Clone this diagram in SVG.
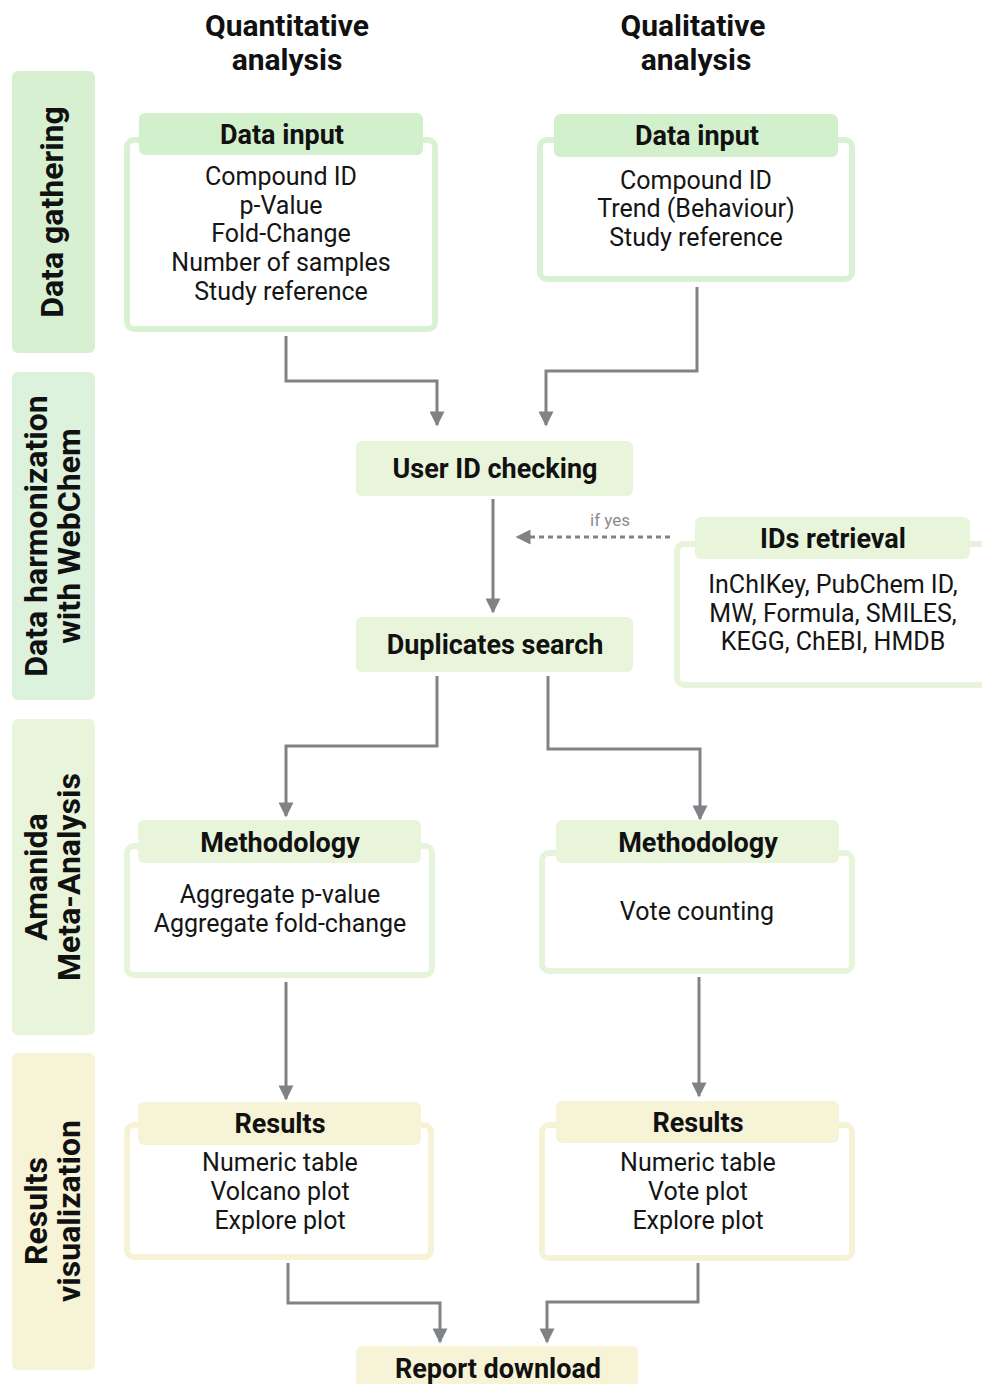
<svg xmlns="http://www.w3.org/2000/svg" width="982" height="1384" viewBox="0 0 982 1384">
<defs>
<style>
.hd{font-family:Roboto,"Liberation Sans",sans-serif;font-weight:bold;font-size:30px;fill:#111;text-anchor:middle}
.side{font-family:Roboto,"Liberation Sans",sans-serif;font-weight:bold;font-size:32px;fill:#111;text-anchor:middle}
.tt{font-family:Roboto,"Liberation Sans",sans-serif;font-weight:bold;font-size:27px;fill:#111;text-anchor:middle}
.bd{font-family:Roboto,"Liberation Sans",sans-serif;font-size:25px;fill:#151515;text-anchor:middle}
.lbl{font-family:Roboto,"Liberation Sans",sans-serif;font-size:17px;fill:#8a8d90;text-anchor:middle}
.c{fill:none;stroke:#808386;stroke-width:3}
.og{fill:#fff;stroke:#d8f1d3;stroke-width:6}
.om{fill:#fff;stroke:#e6f4dc;stroke-width:6}
.or{fill:#fff;stroke:#f5f2d6;stroke-width:6}
</style>
<marker id="ah" viewBox="0 0 10 10" refX="9" refY="5" markerWidth="5.5" markerHeight="5" orient="auto" markerUnits="strokeWidth">
<path d="M0,0 L10,5 L0,10 z" fill="#808386"/>
</marker>
</defs>
<rect width="982" height="1384" fill="#fff"/>

<g id="headers">
<text class="hd" x="287" y="36">Quantitative</text>
<text class="hd" x="287" y="70">analysis</text>
<text class="hd" x="693" y="36">Qualitative</text>
<text class="hd" x="696" y="70">analysis</text>
</g>

<g id="band-gathering">
<rect x="12" y="71" width="83" height="282" rx="6" fill="#d6f0d1"/>
<text class="side" transform="rotate(-90 52 212)" x="52" y="223">Data gathering</text>
</g>
<g id="band-harmonization">
<rect x="12" y="372" width="83" height="328" rx="6" fill="#dcf2dc"/>
<text class="side" transform="rotate(-90 52 536)" x="52" y="536"><tspan x="52" dy="-5">Data harmonization</tspan><tspan x="52" dy="33">with WebChem</tspan></text>
</g>
<g id="band-meta">
<rect x="12" y="719" width="83" height="316" rx="6" fill="#e9f5da"/>
<text class="side" transform="rotate(-90 52 877)" x="52" y="877"><tspan x="52" dy="-5">Amanida</tspan><tspan x="52" dy="33">Meta-Analysis</tspan></text>
</g>
<g id="band-results">
<rect x="12" y="1053" width="83" height="317" rx="6" fill="#f6f3d6"/>
<text class="side" transform="rotate(-90 52 1211)" x="52" y="1211"><tspan x="52" dy="-5">Results</tspan><tspan x="52" dy="33">visualization</tspan></text>
</g>

<g id="connectors">
<path class="c" d="M286,336 V381 H437 V425" marker-end="url(#ah)"/>
<path class="c" d="M697,287 V371 H546 V425" marker-end="url(#ah)"/>
<path class="c" d="M493,499 V612" marker-end="url(#ah)"/>
<path class="c" d="M670,537 H517" stroke-dasharray="5,4" marker-end="url(#ah)"/>
<text class="lbl" x="610" y="526">if yes</text>
<path class="c" d="M437,676 V746 H286 V816" marker-end="url(#ah)"/>
<path class="c" d="M548,676 V749 H700 V819" marker-end="url(#ah)"/>
<path class="c" d="M286,982 V1099" marker-end="url(#ah)"/>
<path class="c" d="M699,977 V1096" marker-end="url(#ah)"/>
<path class="c" d="M288,1263 V1303 H440 V1342" marker-end="url(#ah)"/>
<path class="c" d="M698,1263 V1302 H547 V1342" marker-end="url(#ah)"/>
</g>

<g id="data-input-quant">
<rect class="og" x="127" y="140" width="308" height="189" rx="7"/>
<rect x="139" y="113" width="284" height="42" rx="6" fill="#d1f0cb"/>
<text class="tt" x="282" y="144">Data input</text>
<text class="bd" x="281" y="185">Compound ID</text>
<text class="bd" x="281" y="214">p-Value</text>
<text class="bd" x="281" y="242">Fold-Change</text>
<text class="bd" x="281" y="271">Number of samples</text>
<text class="bd" x="281" y="300">Study reference</text>
</g>

<g id="data-input-qual">
<rect class="og" x="540" y="140" width="312" height="139" rx="7"/>
<rect x="554" y="114" width="284" height="43" rx="6" fill="#d1f0cb"/>
<text class="tt" x="697" y="145">Data input</text>
<text class="bd" x="696" y="189">Compound ID</text>
<text class="bd" x="696" y="217">Trend (Behaviour)</text>
<text class="bd" x="696" y="246">Study reference</text>
</g>

<g id="user-id-checking">
<rect x="356" y="441" width="277" height="55" rx="6" fill="#e8f5da"/>
<text class="tt" x="495" y="478">User ID checking</text>
</g>

<g id="duplicates-search">
<rect x="356" y="617" width="277" height="55" rx="6" fill="#e8f5da"/>
<text class="tt" x="495" y="654">Duplicates search</text>
</g>

<g id="ids-retrieval">
<rect class="om" x="677" y="544" width="320" height="141" rx="7"/>
<rect x="695" y="517" width="275" height="42" rx="6" fill="#e8f5da"/>
<text class="tt" x="833" y="548">IDs retrieval</text>
<text class="bd" x="833" y="593">InChIKey, PubChem ID,</text>
<text class="bd" x="833" y="622">MW, Formula, SMILES,</text>
<text class="bd" x="833" y="650">KEGG, ChEBI, HMDB</text>
</g>

<g id="methodology-quant">
<rect class="om" x="127" y="846" width="305" height="129" rx="7"/>
<rect x="138" y="820" width="283" height="43" rx="6" fill="#e8f5da"/>
<text class="tt" x="280" y="852">Methodology</text>
<text class="bd" x="280" y="903">Aggregate p-value</text>
<text class="bd" x="280" y="932">Aggregate fold-change</text>
</g>

<g id="methodology-qual">
<rect class="om" x="542" y="853" width="310" height="118" rx="7"/>
<rect x="556" y="820" width="283" height="43" rx="6" fill="#e8f5da"/>
<text class="tt" x="698" y="852">Methodology</text>
<text class="bd" x="697" y="920">Vote counting</text>
</g>

<g id="results-quant">
<rect class="or" x="127" y="1125" width="304" height="132" rx="7"/>
<rect x="138" y="1102" width="283" height="43" rx="6" fill="#f6f3d6"/>
<text class="tt" x="280" y="1133">Results</text>
<text class="bd" x="280" y="1171">Numeric table</text>
<text class="bd" x="280" y="1200">Volcano plot</text>
<text class="bd" x="280" y="1229">Explore plot</text>
</g>

<g id="results-qual">
<rect class="or" x="542" y="1125" width="310" height="133" rx="7"/>
<rect x="556" y="1101" width="283" height="42" rx="6" fill="#f6f3d6"/>
<text class="tt" x="698" y="1132">Results</text>
<text class="bd" x="698" y="1171">Numeric table</text>
<text class="bd" x="698" y="1200">Vote plot</text>
<text class="bd" x="698" y="1229">Explore plot</text>
</g>

<g id="report-download">
<rect x="356" y="1346" width="282" height="50" rx="6" fill="#f6f3d6"/>
<text class="tt" x="498" y="1378">Report download</text>
</g>
</svg>
